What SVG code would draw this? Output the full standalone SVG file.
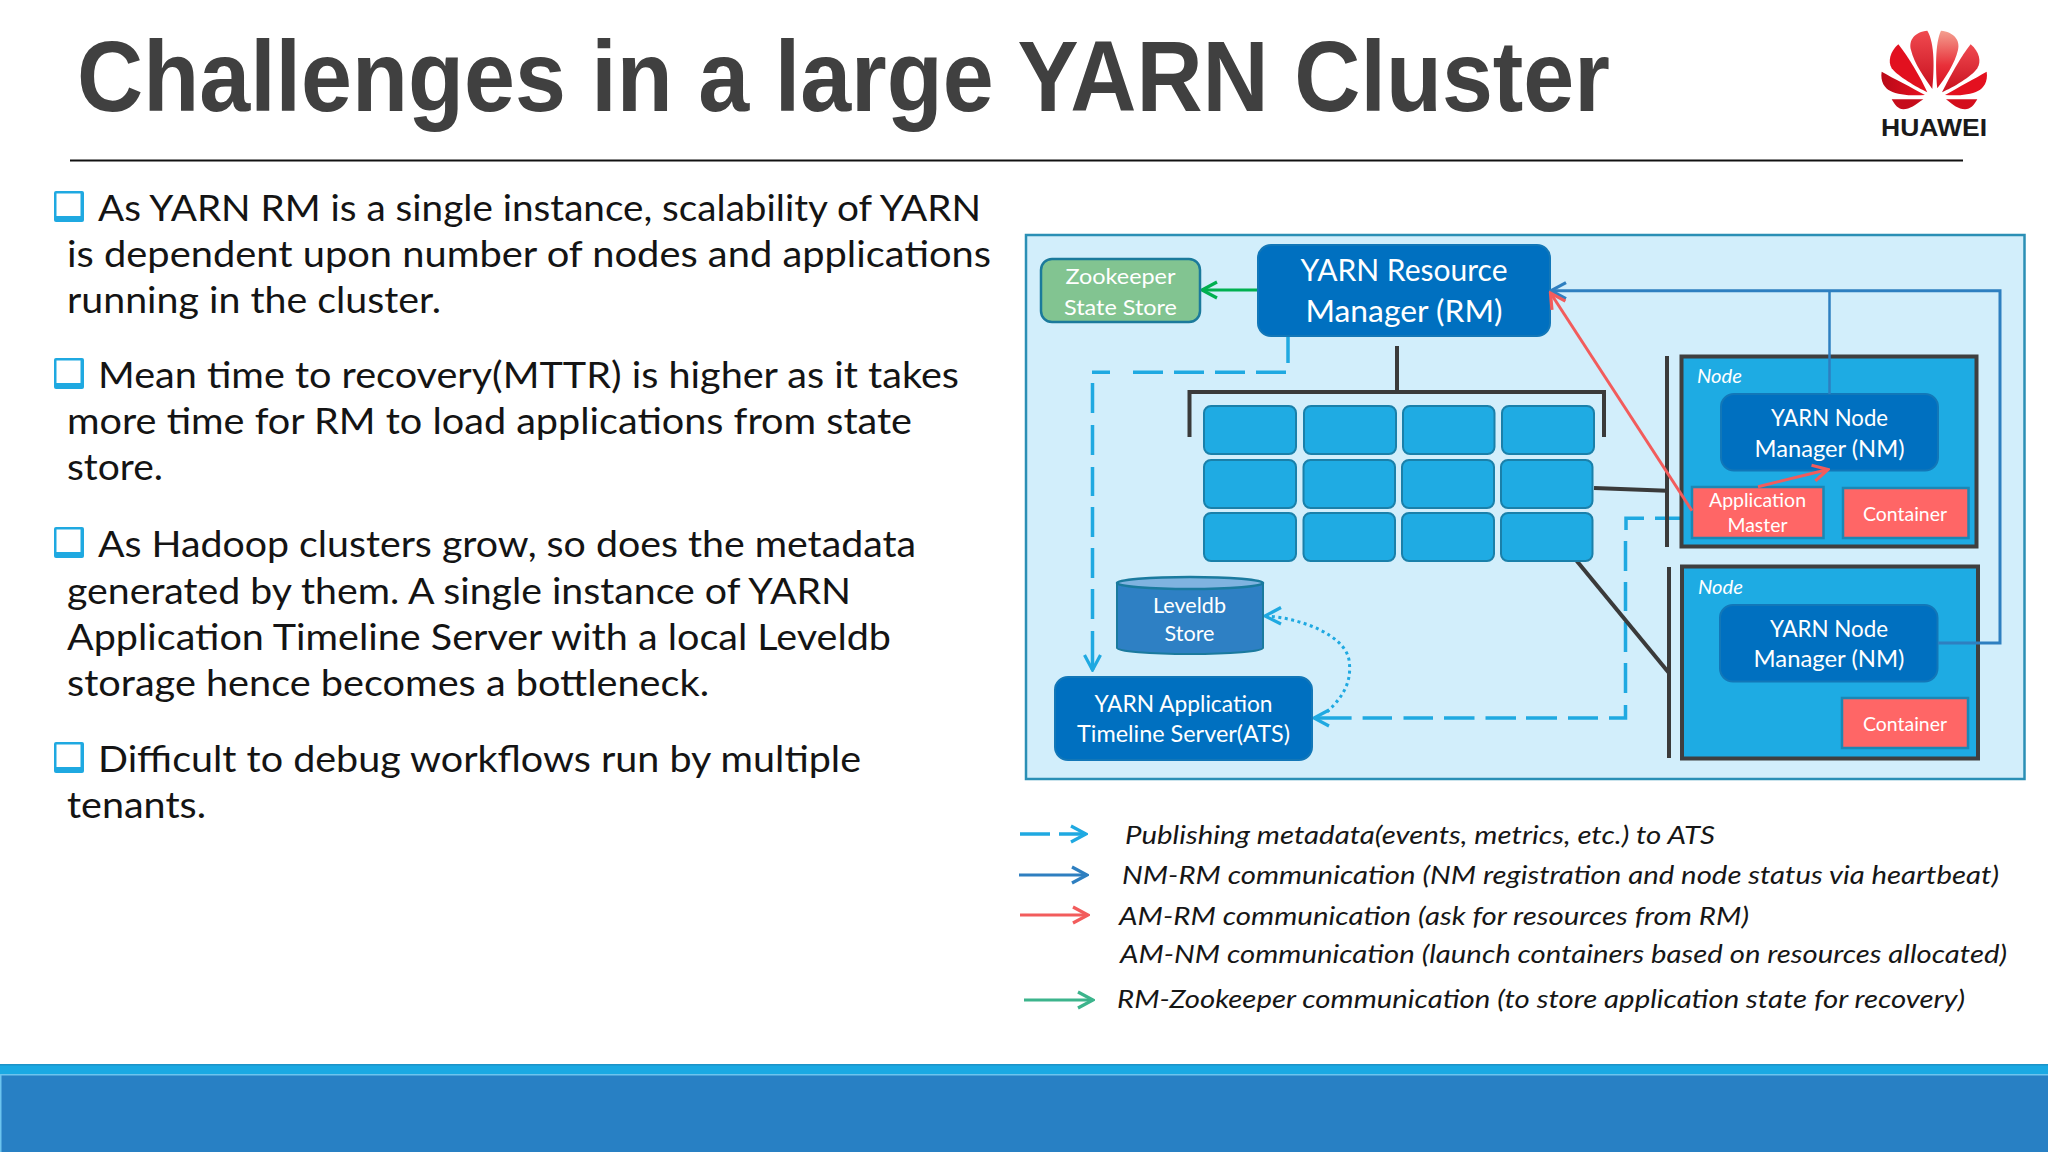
<svg xmlns="http://www.w3.org/2000/svg" width="2048" height="1152" viewBox="0 0 2048 1152">
<style>
text{font-family:"Lato","Liberation Sans",sans-serif;}
.b{font-size:36px;fill:#141414;}
.w{fill:#fff;text-anchor:middle;}
.l{font-size:25px;font-style:italic;fill:#161616;}
.nt{font-size:19px;font-style:italic;fill:#fff;}
.cell{fill:#1fabe3;stroke:#1a80aa;stroke-width:2;}
.dark{fill:#0070c0;stroke:#1277b8;stroke-width:2;}
.red{fill:#ff6666;stroke:#1b87b5;stroke-width:2.5;}
.nb{fill:#1eabe3;stroke:#3f3f3f;stroke-width:4;}
.blk{fill:none;stroke:#3a3a3a;stroke-width:4;}
.dash{fill:none;stroke:#1fa9e1;stroke-width:3.5;}
.blue{fill:none;stroke:#2e7fc0;stroke-width:3;}
.rl{fill:none;stroke:#f25c5c;stroke-width:3;}
.grn{fill:none;stroke:#00b050;stroke-width:3;}
.bul{fill:#1fa9e1;}
</style>
<defs>
<marker id="mc" markerUnits="userSpaceOnUse" viewBox="-18 -11 20 22" markerWidth="20" markerHeight="22" refX="0" refY="0" orient="auto"><path d="M-15 -8L0 0L-15 8" fill="none" stroke="#1fa9e1" stroke-width="3.2"/></marker>
<marker id="mb" markerUnits="userSpaceOnUse" viewBox="-18 -11 20 22" markerWidth="20" markerHeight="22" refX="0" refY="0" orient="auto"><path d="M-15 -8L0 0L-15 8" fill="none" stroke="#2e7fc0" stroke-width="3.2"/></marker>
<marker id="mr" markerUnits="userSpaceOnUse" viewBox="-18 -11 20 22" markerWidth="20" markerHeight="22" refX="0" refY="0" orient="auto"><path d="M-15 -8L0 0L-15 8" fill="none" stroke="#f25c5c" stroke-width="3.2"/></marker>
<marker id="mg" markerUnits="userSpaceOnUse" viewBox="-18 -11 20 22" markerWidth="20" markerHeight="22" refX="0" refY="0" orient="auto"><path d="M-15 -8L0 0L-15 8" fill="none" stroke="#00b050" stroke-width="3.2"/></marker>
<marker id="mt" markerUnits="userSpaceOnUse" viewBox="-18 -11 20 22" markerWidth="20" markerHeight="22" refX="0" refY="0" orient="auto"><path d="M-15 -8L0 0L-15 8" fill="none" stroke="#3cb48c" stroke-width="3.2"/></marker>
<linearGradient id="pa" x1="0" y1="0" x2="0" y2="1"><stop offset="0" stop-color="#f4a090"/><stop offset=".6" stop-color="#e8303a"/><stop offset="1" stop-color="#d8101e"/></linearGradient>
<linearGradient id="pb" x1="0" y1="0" x2="0" y2="1"><stop offset="0" stop-color="#f04a50"/><stop offset="1" stop-color="#c8101e"/></linearGradient>
<linearGradient id="pc" x1="0" y1="0" x2="1" y2="0"><stop offset="0" stop-color="#b80a18"/><stop offset="1" stop-color="#e81020"/></linearGradient>
</defs>
<rect width="2048" height="1152" fill="#fff"/>
<text id="title" x="77" y="111" font-size="100" font-weight="700" textLength="1533" lengthAdjust="spacingAndGlyphs" style="font-family:'Liberation Sans',Arial,sans-serif" fill="#404040">Challenges in a large YARN Cluster</text>
<line x1="70" y1="160.5" x2="1963" y2="160.5" stroke="#111" stroke-width="2"/>
<g id="logo">
<g transform="translate(1840 0) scale(.3333)">
<path d="M262 92C225 95 205 120 213 150C222 190 255 235 277 267C283 210 285 130 262 92Z" fill="url(#pb)"/>
<path d="M303 92C340 95 362 120 354 150C345 190 315 235 292 265C287 210 285 130 303 92Z" fill="url(#pa)"/>
<path d="M175 133C150 155 143 185 155 205C175 230 230 262 262 277C240 230 205 170 175 133Z" fill="#e2101f"/>
<path d="M392 133C418 155 425 185 412 205C395 230 340 262 306 277C330 230 362 170 392 133Z" fill="url(#pb)"/>
<path d="M125 215C120 245 135 265 150 272C175 285 215 288 255 285C215 262 160 235 125 215Z" fill="url(#pc)"/>
<path d="M440 215C445 245 430 265 415 272C390 285 350 288 315 285C355 262 405 235 440 215Z" fill="#e4101f"/>
<path d="M155 298L250 298C225 315 210 328 190 328C175 328 165 315 155 298Z" fill="#c60c1a"/>
<path d="M412 298L318 298C340 315 355 328 375 328C392 328 402 315 412 298Z" fill="#d40e1c"/>
</g>
<text x="1881" y="135.5" font-size="23" font-weight="700" textLength="106" lengthAdjust="spacingAndGlyphs" style="font-family:'Liberation Sans',Arial,sans-serif" fill="#1a1a1a">HUAWEI</text>
</g>
<g id="bullets">
<g id="b1"><rect class="bul" x="54" y="191" width="30" height="31" rx="2"/><rect x="56.5" y="193.5" width="24" height="22.5" fill="#fff"/></g>
<g id="b2"><rect class="bul" x="54" y="358" width="30" height="31" rx="2"/><rect x="56.5" y="360.5" width="24" height="22.5" fill="#fff"/></g>
<g id="b3"><rect class="bul" x="54" y="527" width="30" height="31" rx="2"/><rect x="56.5" y="529.5" width="24" height="22.5" fill="#fff"/></g>
<g id="b4"><rect class="bul" x="54" y="742" width="30" height="31" rx="2"/><rect x="56.5" y="744.5" width="24" height="22.5" fill="#fff"/></g>
</g>
<g id="body" lengthAdjust="spacingAndGlyphs">
<text class="b" x="98" y="221" textLength="883" lengthAdjust="spacingAndGlyphs">As YARN RM is a single instance, scalability of YARN</text>
<text class="b" x="67" y="267" textLength="924" lengthAdjust="spacingAndGlyphs">is dependent upon number of nodes and applications</text>
<text class="b" x="67" y="313" textLength="374" lengthAdjust="spacingAndGlyphs">running in the cluster.</text>
<text class="b" x="98" y="388" textLength="861" lengthAdjust="spacingAndGlyphs">Mean time to recovery(MTTR) is higher as it takes</text>
<text class="b" x="67" y="434" textLength="845" lengthAdjust="spacingAndGlyphs">more time for RM to load applications from state</text>
<text class="b" x="67" y="480" textLength="96" lengthAdjust="spacingAndGlyphs">store.</text>
<text class="b" x="98" y="557" textLength="818" lengthAdjust="spacingAndGlyphs">As Hadoop clusters grow, so does the metadata</text>
<text class="b" x="67" y="604" textLength="784" lengthAdjust="spacingAndGlyphs">generated by them. A single instance of YARN</text>
<text class="b" x="67" y="650" textLength="824" lengthAdjust="spacingAndGlyphs">Application Timeline Server with a local Leveldb</text>
<text class="b" x="67" y="696" textLength="642" lengthAdjust="spacingAndGlyphs">storage hence becomes a bottleneck.</text>
<text class="b" x="98" y="772" textLength="763" lengthAdjust="spacingAndGlyphs">Difficult to debug workflows run by multiple</text>
<text class="b" x="67" y="818" textLength="139" lengthAdjust="spacingAndGlyphs">tenants.</text>
</g>
<rect id="panel" x="1026" y="235" width="998.500" height="544" fill="#d2eefb" stroke="#2a8fb5" stroke-width="2.500"/>
<g id="connectors">
<path class="grn" d="M1258 290H1202" marker-end="url(#mg)"/>
<path class="dash" d="M1288 336V363M1286 372.300H1256M1245 372.300H1215M1204 372.300H1174M1163 372.300H1133M1110 372.300H1092M1092.500 383V413M1092.500 425V455M1092.500 467V496M1092.500 507V537M1092.500 548V578M1092.500 589V619"/>
<path class="dash" d="M1092.500 631V670" marker-end="url(#mc)"/>
<path class="blk" d="M1397 346V392"/>
<path class="blk" d="M1189.500 437V392H1604V437"/>
<path class="dash" d="M1684 518.300H1655M1644 518.300H1626V530M1625.500 541V571M1625.500 582V611M1625.500 622V652M1625.500 663V693M1625.500 705V718H1609M1598 718H1568M1557 718H1526M1516 718H1485.500M1474.500 718H1444M1433 718H1403.500M1392 718H1362.600"/>
<path class="dash" d="M1351.600 718H1314" marker-end="url(#mc)"/>
<path d="M1327 712C1345 695 1352 680 1349 660C1345 635 1300 618 1267 616" fill="none" stroke="#1fa9e1" stroke-width="3" stroke-dasharray="3 3.500"/>
<path d="M1281 607.500L1265 616L1281 624" fill="none" stroke="#1fa9e1" stroke-width="3.200"/>
<path class="blk" d="M1594 488L1667 490.700"/>
<path class="blk" d="M1576 560L1669 673"/>
<path class="blk" d="M1667 356V547"/>
<path class="blk" d="M1669 567V758"/>
</g>
<g id="zookeeper"><rect x="1041" y="259" width="159" height="63" rx="11" fill="#82c491" stroke="#1b7a9b" stroke-width="2.500"/><text class="w" x="1120.500" y="284" font-size="22" textLength="110" lengthAdjust="spacingAndGlyphs">Zookeeper</text><text class="w" x="1120.500" y="315" font-size="22" textLength="113" lengthAdjust="spacingAndGlyphs">State Store</text></g>
<g id="rm"><rect class="dark" x="1258" y="245" width="292" height="91" rx="13"/><text class="w" x="1404" y="281" font-size="30" textLength="207" lengthAdjust="spacingAndGlyphs">YARN Resource</text><text class="w" x="1404" y="322" font-size="30" textLength="197" lengthAdjust="spacingAndGlyphs">Manager (RM)</text></g>
<g id="cells">
<rect class="cell" x="1204" y="406" width="92" height="48" rx="7"/><rect class="cell" x="1304" y="406" width="92" height="48" rx="7"/><rect class="cell" x="1403" y="406" width="91.500" height="48" rx="7"/><rect class="cell" x="1502" y="406" width="92" height="48" rx="7"/>
<rect class="cell" x="1204" y="460" width="92" height="48" rx="7"/><rect class="cell" x="1303.500" y="460" width="91.500" height="48" rx="7"/><rect class="cell" x="1402" y="460" width="92" height="48" rx="7"/><rect class="cell" x="1501" y="460" width="91.500" height="48" rx="7"/>
<rect class="cell" x="1204" y="513" width="92" height="48" rx="7"/><rect class="cell" x="1303.500" y="513" width="91.500" height="48" rx="7"/><rect class="cell" x="1402" y="513" width="92" height="48" rx="7"/><rect class="cell" x="1501" y="513" width="91.500" height="48" rx="7"/>
</g>
<g id="leveldb">
<path d="M1117 583V648A73 6 0 0 0 1263 648V583Z" fill="#2e80c4" stroke="#1a7a9e" stroke-width="2"/>
<ellipse cx="1190" cy="583" rx="73" ry="6" fill="#7fb3e0" stroke="#1a7a9e" stroke-width="2.500"/>
<text class="w" x="1189.500" y="612.500" font-size="21" textLength="73" lengthAdjust="spacingAndGlyphs">Leveldb</text><text class="w" x="1189.500" y="640.500" font-size="21" textLength="50" lengthAdjust="spacingAndGlyphs">Store</text>
</g>
<g id="ats"><rect class="dark" x="1055" y="677" width="257" height="83" rx="13"/><text class="w" x="1183.500" y="711.500" font-size="23" textLength="178" lengthAdjust="spacingAndGlyphs">YARN Application</text><text class="w" x="1183.500" y="741.500" font-size="23" textLength="213" lengthAdjust="spacingAndGlyphs">Timeline Server(ATS)</text></g>
<g id="node1">
<rect class="nb" x="1681.500" y="356.500" width="295" height="190"/>
<text class="nt" x="1697" y="383" textLength="45" lengthAdjust="spacingAndGlyphs">Node</text>
<g id="nm1"><rect class="dark" x="1721" y="394" width="217" height="76.500" rx="13"/><text class="w" x="1829.500" y="426" font-size="23" textLength="117" lengthAdjust="spacingAndGlyphs">YARN Node</text><text class="w" x="1829.500" y="457" font-size="23" textLength="150" lengthAdjust="spacingAndGlyphs">Manager (NM)</text></g>
<g id="am"><rect class="red" x="1692" y="487" width="131.500" height="51"/><text class="w" x="1757.500" y="506.500" font-size="20" textLength="97" lengthAdjust="spacingAndGlyphs">Application</text><text class="w" x="1757.500" y="532" font-size="20" textLength="60" lengthAdjust="spacingAndGlyphs">Master</text></g>
<g id="container1"><rect class="red" x="1843" y="488" width="125.500" height="50"/><text class="w" x="1905" y="520.500" font-size="20" textLength="84" lengthAdjust="spacingAndGlyphs">Container</text></g>
</g>
<g id="node2">
<rect class="nb" x="1682" y="566.500" width="296" height="192"/>
<text class="nt" x="1698" y="594" textLength="45" lengthAdjust="spacingAndGlyphs">Node</text>
<g id="nm2"><rect class="dark" x="1720" y="605" width="217.500" height="76.500" rx="13"/><text class="w" x="1829" y="636.500" font-size="23" textLength="118" lengthAdjust="spacingAndGlyphs">YARN Node</text><text class="w" x="1829" y="667" font-size="23" textLength="151" lengthAdjust="spacingAndGlyphs">Manager (NM)</text></g>
<g id="container2"><rect class="red" x="1842" y="698" width="126" height="50"/><text class="w" x="1905" y="730.500" font-size="20" textLength="84" lengthAdjust="spacingAndGlyphs">Container</text></g>
</g>
<g id="connectors-over">
<path class="blue" d="M1938 643H2000V290.700H1551" marker-end="url(#mb)"/>
<path d="M1829.500 290.700V394" fill="none" stroke="#2e7fc0" stroke-width="2.500"/>
<path class="rl" d="M1692 510.700L1550.500 293" marker-end="url(#mr)"/>
<path class="rl" d="M1758 486.700L1828 469.500" marker-end="url(#mr)"/>
</g>
<g id="legend">
<path class="dash" d="M1020 834H1050"/>
<path class="dash" d="M1059 834H1086" marker-end="url(#mc)"/>
<path class="blue" d="M1019 875H1087" marker-end="url(#mb)"/>
<path class="rl" d="M1020 915H1088" marker-end="url(#mr)"/>
<path d="M1024 1000H1093" fill="none" stroke="#3cb48c" stroke-width="3" marker-end="url(#mt)"/>
<text class="l" x="1125" y="844" textLength="590" lengthAdjust="spacingAndGlyphs">Publishing metadata(events, metrics, etc.) to ATS</text>
<text class="l" x="1122" y="884" textLength="877" lengthAdjust="spacingAndGlyphs">NM-RM communication (NM registration and node status via heartbeat)</text>
<text class="l" x="1119" y="925" textLength="630" lengthAdjust="spacingAndGlyphs">AM-RM communication (ask for resources from RM)</text>
<text class="l" x="1120" y="963" textLength="887" lengthAdjust="spacingAndGlyphs">AM-NM communication (launch containers based on resources allocated)</text>
<text class="l" x="1117" y="1008" textLength="848" lengthAdjust="spacingAndGlyphs">RM-Zookeeper communication (to store application state for recovery)</text>
</g>
<g id="footer">
<rect x="0" y="1064" width="2048" height="11" fill="#1aa9e3"/>
<rect x="0" y="1064" width="2048" height="1.500" fill="#1d93c8"/>
<rect x="0" y="1075" width="2048" height="77" fill="#2880c4"/>
<rect x="0" y="1074" width="2048" height="1.500" fill="#6cc4ee"/>
<rect x="0" y="1075" width="1.500" height="77" fill="#6cc4ee"/>
</g>
</svg>
